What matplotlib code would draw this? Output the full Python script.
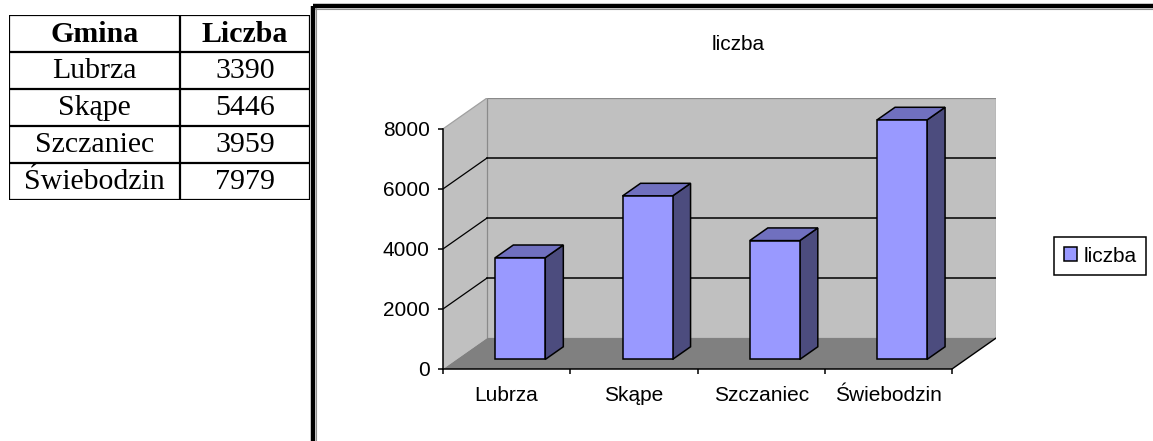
import matplotlib
matplotlib.use("Agg")
import matplotlib.pyplot as plt
from matplotlib.patches import Polygon, Rectangle, Patch

# data
gminy = ["Lubrza", "Skąpe", "Szczaniec", "Świebodzin"]
liczba = [3390, 5446, 3959, 7979]
y_ticks = [0, 2000, 4000, 6000, 8000]
naglowki = ["Gmina", "Liczba"]
seria = "liczba"

W, H = 1153, 441
fig = plt.figure(figsize=(W / 100, H / 100), dpi=100)


def box(x0, y0, x1, y1):
    # pixel box (top-left origin) -> figure fraction rect
    return [x0 / W, 1 - y1 / H, (x1 - x0) / W, (y1 - y0) / H]


# background / outer chart border
bg = fig.add_axes([0, 0, 1, 1])
bg.set_xlim(0, W)
bg.set_ylim(H, 0)
bg.axis("off")
bg.plot([313, 313], [6, H], color="black", lw=3.2, solid_capstyle="butt")
bg.plot([313, W], [6, 6], color="black", lw=3.2, solid_capstyle="butt")
bg.plot([315.8, 315.8], [8, H], color="#909090", lw=0.8)
bg.plot([315, W], [8.6, 8.6], color="#909090", lw=0.8)

# ---- table ----
tab = fig.add_axes(box(9, 15, 310, 200))
tab.set_xlim(0, 1)
tab.set_ylim(len(gminy) + 1, 0)
tab.axis("off")
col_split = (180 - 9) / (310 - 9)
nrows = len(gminy) + 1
tab.hlines(range(nrows + 1), 0, 1, color="black", lw=1.6)
tab.vlines([0, col_split, 1], 0, nrows, color="black", lw=1.6)
c1 = col_split / 2
c2 = (col_split + 1) / 2
fs_tab = 21.5
tab.text(c1, 0.52, naglowki[0], ha="center", va="center", family="Liberation Serif",
         fontsize=fs_tab, fontweight="bold")
tab.text(c2, 0.52, naglowki[1], ha="center", va="center", family="Liberation Serif",
         fontsize=fs_tab, fontweight="bold")
for i, (g, v) in enumerate(zip(gminy, liczba)):
    tab.text(c1, i + 1.52, g, ha="center", va="center", family="Liberation Serif", fontsize=fs_tab)
    tab.text(c2, i + 1.52, str(v), ha="center", va="center", family="Liberation Serif", fontsize=fs_tab)

# ---- pseudo 3d bar chart ----
n = len(gminy)
ymax = y_ticks[-1]
DX = 44 / 127.25          # depth offset in category units
DY = 31 / (241 / ymax)    # depth offset in value units
bw = 0.393
f0, f1 = 0.31, 0.72

ax = fig.add_axes(box(443, 98, 996, 369))
ax.set_xlim(0, n + DX)
ax.set_ylim(0, ymax + DY)
ax.patch.set_visible(False)

wall = "#C0C0C0"
floor = "#808080"
ax.add_patch(Polygon([(0, 0), (DX, DY), (DX, ymax + DY), (0, ymax)], closed=True,
                     facecolor=wall, edgecolor="none", zorder=0.5))
ax.add_patch(Polygon([(DX, DY), (n + DX, DY), (n + DX, ymax + DY), (DX, ymax + DY)], closed=True,
                     facecolor=wall, edgecolor="#8a8a8a", lw=0.9, zorder=0.5))
ax.add_patch(Polygon([(0, 0), (n, 0), (n + DX, DY), (DX, DY)], closed=True,
                     facecolor=floor, edgecolor="none", zorder=0.6))
for t in y_ticks[1:-1]:
    ax.plot([DX, n + DX], [t + DY, t + DY], color="black", lw=1.1, zorder=1)
    ax.plot([0, DX], [t, t + DY], color="black", lw=0.9, zorder=1)
ax.plot([0, DX], [ymax, ymax + DY], color="#a0a0a0", lw=0.9, zorder=1)
ax.plot([n, n + DX], [0, DY], color="black", lw=1.0, zorder=1)

top_c = "#7070BF"
side_c = "#4C4C7E"
front_c = "#9999FF"
d = f1 - f0
for i, v in enumerate(liczba):
    x0 = i + 0.5 - bw / 2 + f0 * DX
    x1 = x0 + bw
    y0 = f0 * DY
    y1 = y0 + v
    ax.add_patch(Polygon([(x1, y0), (x1 + d * DX, y0 + d * DY), (x1 + d * DX, y1 + d * DY), (x1, y1)],
                         closed=True, facecolor=side_c, edgecolor="black", lw=1.1, zorder=3))
    ax.add_patch(Polygon([(x0, y1), (x1, y1), (x1 + d * DX, y1 + d * DY), (x0 + d * DX, y1 + d * DY)],
                         closed=True, facecolor=top_c, edgecolor="black", lw=1.1, zorder=3))
    ax.add_patch(Rectangle((x0, y0), bw, v, facecolor=front_c, edgecolor="black", lw=1.1, zorder=3.1))

for s in ["top", "right"]:
    ax.spines[s].set_visible(False)
ax.spines["left"].set_bounds(0, ymax)
ax.spines["bottom"].set_bounds(0, n)
ax.spines["left"].set_linewidth(1.1)
ax.spines["bottom"].set_linewidth(1.1)
ax.spines["left"].set_zorder(4)
ax.spines["bottom"].set_zorder(4)

ax.set_yticks(y_ticks)
ax.set_yticklabels([str(t) for t in y_ticks], family="Liberation Sans", fontsize=15)
ax.tick_params(axis="y", direction="out", length=3.5, width=1.1, pad=6)
ax.set_xticks(range(n + 1))
ax.set_xticklabels([""] * (n + 1))
ax.set_xticks([i + 0.5 for i in range(n)], minor=True)
ax.set_xticklabels(gminy, minor=True, family="Liberation Sans", fontsize=15)
ax.tick_params(axis="x", which="major", direction="out", length=3.5, width=1.1)
ax.tick_params(axis="x", which="minor", length=0, pad=12)

fig.text(738 / W, 1 - 45 / H, seria, ha="center", va="center", family="Liberation Sans", fontsize=15)

leg = fig.legend(handles=[Patch(facecolor=front_c, edgecolor="black", lw=1.1, label=seria)],
                 loc="center", bbox_to_anchor=(1100 / W, 1 - 256 / H),
                 prop={"family": "Liberation Sans", "size": 15},
                 fancybox=False, framealpha=1, edgecolor="black",
                 handlelength=0.65, handleheight=0.65, handletextpad=0.3,
                 borderpad=0.45, borderaxespad=0)
leg.get_frame().set_linewidth(1.1)

fig.savefig("out.png", dpi=100)
